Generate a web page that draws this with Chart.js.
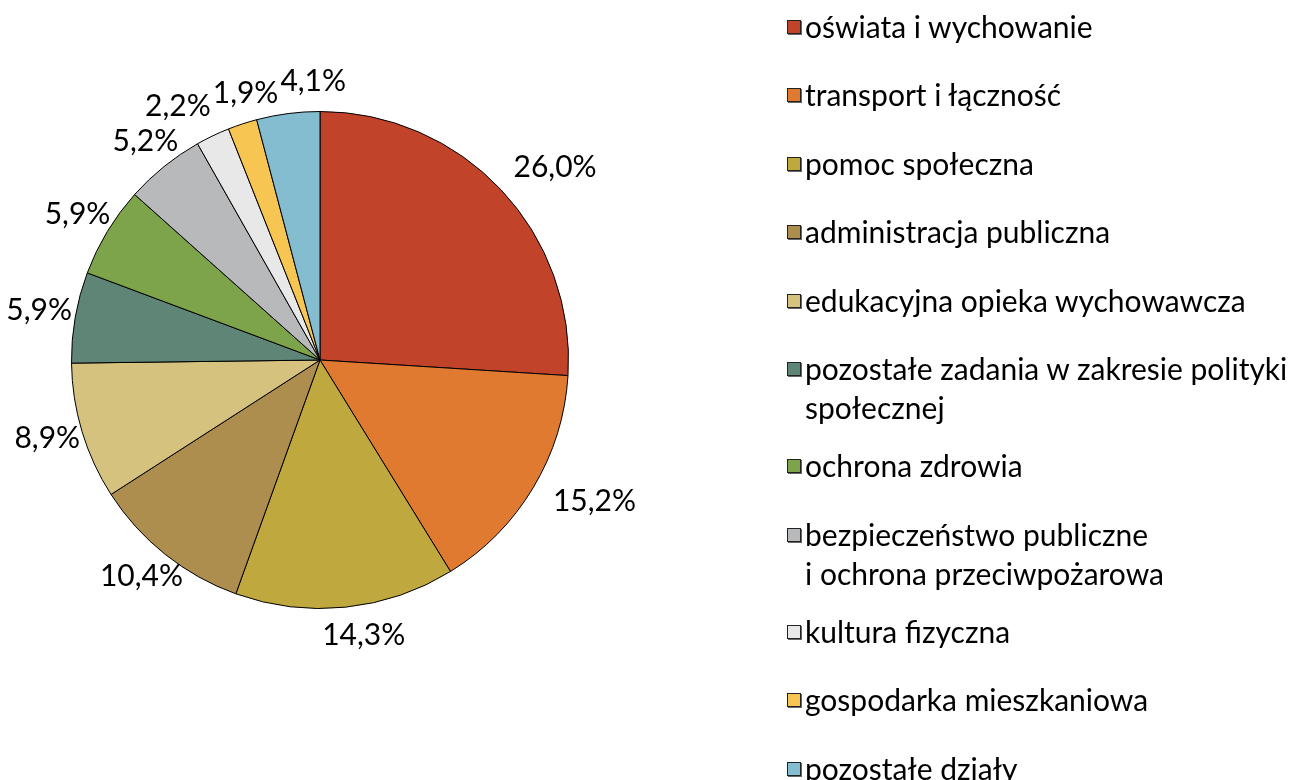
<!DOCTYPE html>
<html lang="pl">
<head>
<meta charset="utf-8">
<title>Struktura wydatków</title>
<script src="https://cdn.jsdelivr.net/npm/chart.js@4.4.1/dist/chart.umd.min.js"></script>
<style>
  html, body { margin: 0; padding: 0; background: #fff; }
  #wrap { position: relative; width: 1290px; height: 780px; }
  #chart { position: absolute; left: 0; top: 0; }
  .item {
    position: absolute;
    left: 787px;
    padding-left: 18px;
    font-family: Lato, "Open Sans", sans-serif;
    font-size: 30px;
    line-height: 39px;
    color: #000;
    white-space: pre;
  }
  .box {
    position: absolute;
    left: 0;
    top: 13px;
    width: 12px;
    height: 12px;
    border: 1px solid #222;
    box-shadow: 1px 1px 0 #666;
  }
</style>
</head>
<body>
<div id="wrap">
  <canvas id="chart" width="1290" height="780"></canvas>
  <div id="legend"></div>
</div>
<script>
// dane
const categories = [
  'oświata i wychowanie',
  'transport i łączność',
  'pomoc społeczna',
  'administracja publiczna',
  'edukacyjna opieka wychowawcza',
  'pozostałe zadania w zakresie polityki\nspołecznej',
  'ochrona zdrowia',
  'bezpieczeństwo publiczne\ni ochrona przeciwpożarowa',
  'kultura fizyczna',
  'gospodarka mieszkaniowa',
  'pozostałe działy'
];
const shares = [26.0, 15.2, 14.3, 10.4, 8.9, 5.9, 5.9, 5.2, 2.2, 1.9, 4.1];
const colors = [
  '#C0432A', '#DF7A30', '#BFA83E', '#AE8E4E', '#D5C27F', '#5F8576',
  '#7DA34B', '#B8B9BB', '#E8E8E8', '#F7C552', '#84BDD0'
];

function fmt(v) {
  return v.toFixed(1).replace('.', ',') + '%';
}

// etykiety procentowe na zewnątrz wycinków
const pctLabels = {
  id: 'pctLabels',
  afterDatasetsDraw(chart) {
    const ctx = chart.ctx;
    const meta = chart.getDatasetMeta(0);
    ctx.save();
    ctx.font = '30px Lato, "Open Sans", sans-serif';
    ctx.fillStyle = '#000';
    ctx.textAlign = 'center';
    ctx.textBaseline = 'middle';
    const h = 28;
    const boxes = meta.data.map((arc, i) => {
      const mid = (arc.startAngle + arc.endAngle) / 2;
      const r = arc.outerRadius + 16;
      const text = fmt(shares[i]);
      const w = ctx.measureText(text).width;
      const c = Math.cos(mid), s = Math.sin(mid);
      return { text, w, x: arc.x + c * (r + w / 2) + 12, y: arc.y + s * (r + h / 2) - 2 };
    });
    // rozsuwanie nachodzących etykiet
    for (let k = 0; k < 10; k++) {
      for (let i = 0; i < boxes.length; i++) {
        const a = boxes[i], b = boxes[(i + 1) % boxes.length];
        const ov = (a.w + b.w) / 2 + 2 - Math.abs(a.x - b.x);
        if (ov > 0 && Math.abs(a.y - b.y) < h) {
          const dir = a.x < b.x ? 1 : -1;
          a.x -= dir * ov / 2;
          b.x += dir * ov / 2;
        }
      }
    }
    boxes.forEach(b => ctx.fillText(b.text, b.x, b.y));
    ctx.restore();
  }
};

new Chart(document.getElementById('chart'), {
  type: 'pie',
  data: {
    labels: categories,
    datasets: [{
      data: shares,
      backgroundColor: colors,
      borderColor: '#000',
      borderWidth: 1
    }]
  },
  options: {
    responsive: false,
    animation: false,
    layout: { padding: { left: 71, right: 721, top: 111, bottom: 171 } },
    plugins: {
      legend: { display: false },
      tooltip: { enabled: false }
    }
  },
  plugins: [pctLabels]
});

// legenda
const legend = document.getElementById('legend');
let center = 26;
categories.forEach((name, i) => {
  const lines = name.split('\n').length;
  const item = document.createElement('div');
  item.className = 'item';
  item.style.top = (center - 19.5) + 'px';
  const box = document.createElement('span');
  box.className = 'box';
  box.style.background = colors[i];
  item.appendChild(box);
  item.appendChild(document.createTextNode(name));
  legend.appendChild(item);
  center += 68.5 + (lines - 1) * 28.5;
});
</script>
</body>
</html>
